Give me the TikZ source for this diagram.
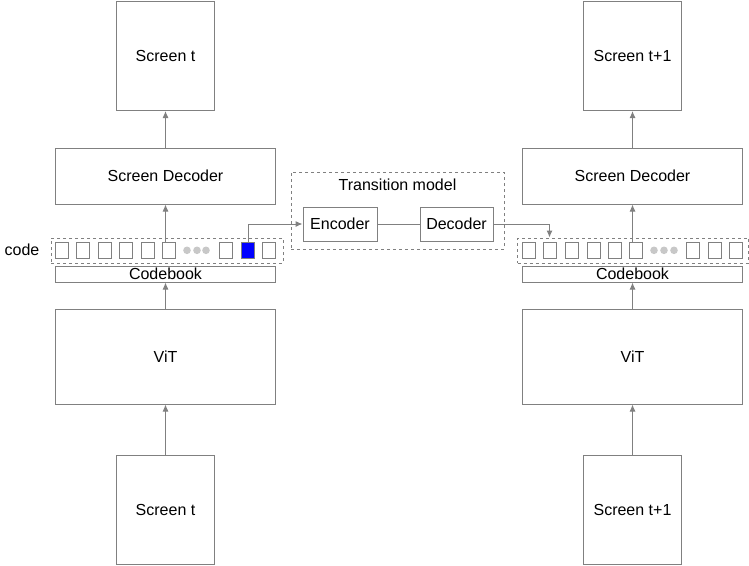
\documentclass[tikz,border=0pt]{standalone}
\usepackage{fontspec}
\setmainfont{Liberation Sans}
\usepackage{xcolor}
\usepackage{tikz}
\usetikzlibrary{arrows.meta}
\definecolor{linegray}{RGB}{128,128,128}
\definecolor{dotgray}{RGB}{200,200,200}

\begin{document}
\begin{tikzpicture}[x=1pt,y=-1pt,
	font=\fontsize{16}{19}\selectfont,
	box/.style={draw=linegray,line width=1pt,inner sep=0pt},
	cell/.style={draw=linegray,line width=1pt,minimum width=13pt,minimum height=16pt,inner sep=0pt},
	group/.style={draw=linegray,dashed,line width=1pt,inner sep=0pt},
	link/.style={draw=linegray,line width=1pt,-{Latex[length=7pt,width=6pt]}}]
		\useasboundingbox (0,0) rectangle (749,565);
		\node[box,minimum width=98pt,minimum height=109pt] (lscreen) at (165.5,56) {Screen t};
		\node[box,minimum width=220pt,minimum height=56pt] (ldec) at (165.5,176) {Screen Decoder};
		\node[group,minimum width=232pt,minimum height=25pt] (lcode) at (167,250.5) {};
		\node[box,minimum width=220pt,minimum height=16pt] (lcb) at (165.5,274) {Codebook};
		\node[box,minimum width=220pt,minimum height=95pt] (lvit) at (165.5,356.5) {ViT};
		\node[box,minimum width=98pt,minimum height=109pt] (lin) at (165.5,510) {Screen t};
		\node (codelabel) at (22,250) {code};
		\foreach \i/\x in {1/61.5,2/82.5,3/104.5,4/125.5,5/147.5,6/168.5,7/225.5,9/268.5}
			\node[cell] (lc\i) at (\x,250.3) {};
		\node[cell,fill=blue] (lc8) at (248,250.3) {};
		\foreach \x in {187,197,206}
			\fill[dotgray] (\x,250.3) circle (3.8);
		
		\node[group,minimum width=213pt,minimum height=77pt] (tm) at (397.5,210.5) {};
		\node (tmlabel) at (397.5,185) {Transition model};
		\node[box,minimum width=74pt,minimum height=34pt] (enc) at (340,224) {Encoder};
		\node[box,minimum width=73pt,minimum height=34pt] (dec) at (456.5,224) {Decoder};
		
		\node[box,minimum width=98pt,minimum height=109pt] (rscreen) at (632.5,56) {Screen t+1};
		\node[box,minimum width=220pt,minimum height=56pt] (rdec) at (632.5,176) {Screen Decoder};
		\node[group,minimum width=231pt,minimum height=25pt] (rcode) at (633,250.5) {};
		\node[box,minimum width=220pt,minimum height=16pt] (rcb) at (632.5,274) {Codebook};
		\node[box,minimum width=220pt,minimum height=95pt] (rvit) at (632.5,356.5) {ViT};
		\node[box,minimum width=98pt,minimum height=109pt] (rin) at (632.5,510) {Screen t+1};
		\foreach \i/\x in {1/528.5,2/549.5,3/571.5,4/593.5,5/614.5,6/635.5,7/692.5,8/714.5,9/735.5}
			\node[cell] (rc\i) at (\x,250.3) {};
		\foreach \x in {654,664,674}
			\fill[dotgray] (\x,250.3) circle (3.8);
		
		\draw[link] (lin.north) -- (lvit.south);
		\draw[link] (lvit.north) -- (lcb.south);
		\draw[link] (lc6.north -| ldec.south) -- (ldec.south);
		\draw[link] (ldec.north) -- (lscreen.south);
		\draw[link] (lc8.north) |- (enc.west);
		\draw[draw=linegray,line width=1pt] (enc) -- (dec);
		\draw[link] (dec.east) -| (rcode.north -| rc2);
		\draw[link] (rin.north) -- (rvit.south);
		\draw[link] (rvit.north) -- (rcb.south);
		\draw[link] (rc6.north -| rdec.south) -- (rdec.south);
		\draw[link] (rdec.north) -- (rscreen.south);
\end{tikzpicture}
\end{document}
